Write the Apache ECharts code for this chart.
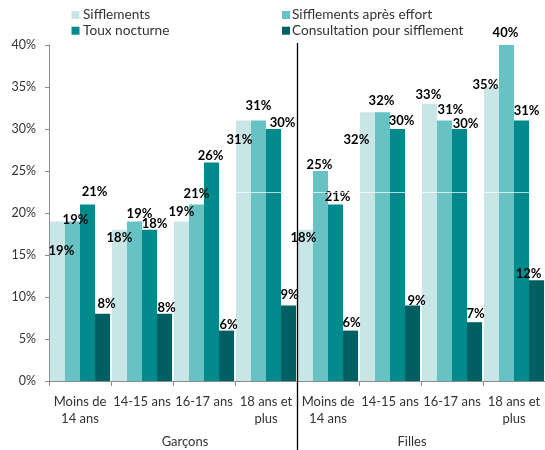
<!DOCTYPE html>
<html>
<head>
<meta charset="utf-8">
<script src="https://cdn.jsdelivr.net/npm/echarts@6/dist/echarts.min.js"></script>
<style>
  html, body { margin: 0; padding: 0; background: #ffffff; }
  #chart { width: 545px; height: 450px; }
</style>
</head>
<body>
<div id="chart"></div>
<script>
// Age bands, repeated for boys then girls
const categories = [
  'Moins de\n14 ans', '14-15 ans', '16-17 ans', '18 ans et\nplus',
  'Moins de\n14 ans', '14-15 ans', '16-17 ans', '18 ans et\nplus'
];
const groupNames = ['Garçons', 'Filles'];
const seriesNames = ['Sifflements', 'Sifflements après effort', 'Toux nocturne', 'Consultation pour sifflement'];

// Percentages per age band (boys x4, girls x4)
const sifflements = [19, 18, 19, 31, 18, 32, 33, 35];
const sifflementsEffort = [19, 19, 21, 31, 25, 32, 31, 40];
const touxNocturne = [21, 18, 26, 30, 21, 30, 30, 31];
const consultation = [8, 8, 6, 9, 6, 9, 7, 12];

const yTickValues = [0, 5, 10, 15, 20, 25, 30, 35, 40];

// Layout: hand-placed nudges for the value labels ([dx, dy] from the default top position)
const labelNudges = [
  [[4, 41], [0, 20], [0, 2], [-4, 31], [-2, 20], [-11, 39], [-1, 3], [-6, 9]],
  [[3, 10], [5, 4], [0, 1], [0, -3], [-1, 5], [-1, 0], [6, 1], [-1, -1]],
  [[7, -1], [5, 6], [-1, 5], [9, 5], [2, 4], [4, 3], [6, 6], [5, 2]],
  [[4, 2], [2, 6], [2, 6], [1, 1], [1, 4], [4, 7], [1, 3], [-8, 5]]
];
const colors = ['#c9e6e6', '#67c2c3', '#008a8c', '#005f62'];
const FONT = 'Lato';

const values = [sifflements, sifflementsEffort, touxNocturne, consultation];

const chart = echarts.init(document.getElementById('chart'), null, { renderer: 'canvas' });

const series = values.map((arr, si) => ({
  name: seriesNames[si],
  type: 'bar',
  barGap: '0%',
  barCategoryGap: '3%',
  itemStyle: { color: colors[si] },
  label: {
    show: true,
    position: 'top',
    distance: 5,
    formatter: '{c}%',
    fontFamily: FONT,
    fontWeight: 'bold',
    fontSize: 13,
    color: '#000000'
  },
  data: arr.map((v, i) => ({ value: v, label: { offset: labelNudges[si][i] } }))
}));

const legendText = { fontFamily: FONT, fontSize: 13.7, lineHeight: 14, color: '#333333' };

const option = {
  animation: false,
  textStyle: { fontFamily: FONT },
  grid: { left: 49, right: -8, top: 45, bottom: 69, containLabel: false },
  legend: [
    {
      data: [seriesNames[0], seriesNames[2]],
      orient: 'vertical',
      left: 71.5, top: 8, padding: 0,
      itemWidth: 8, itemHeight: 8, itemGap: 1.7,
      icon: 'rect',
      textStyle: Object.assign({ padding: [0, 0, 0, -1.5] }, legendText)
    },
    {
      data: [seriesNames[1], seriesNames[3]],
      orient: 'vertical',
      left: 282, top: 8, padding: 0,
      itemWidth: 8, itemHeight: 8, itemGap: 1.7,
      icon: 'rect',
      textStyle: Object.assign({ padding: [0, 0, 0, -3] }, legendText)
    }
  ],
  xAxis: {
    type: 'category',
    data: categories,
    axisLine: { lineStyle: { color: '#8c8c8c', width: 1 } },
    axisTick: { show: true, length: 5, lineStyle: { color: '#8c8c8c' } },
    axisLabel: {
      interval: 0,
      margin: 12,
      fontFamily: FONT,
      fontSize: 13,
      lineHeight: 17,
      color: '#333333'
    }
  },
  yAxis: {
    type: 'value',
    min: yTickValues[0],
    max: yTickValues[yTickValues.length - 1],
    interval: 5,
    axisLine: { show: true, lineStyle: { color: '#8c8c8c', width: 1 } },
    axisTick: { show: true, length: 4, lineStyle: { color: '#8c8c8c' } },
    splitLine: { show: false },
    axisLabel: {
      formatter: '{value}%',
      margin: 13,
      fontFamily: FONT,
      fontSize: 12.5,
      color: '#333333'
    }
  },
  series: series
};

chart.setOption(option);

// Group divider, group titles and the faint white rule across the bars
const xA = chart.convertToPixel({ xAxisIndex: 0 }, 3);
const xB = chart.convertToPixel({ xAxisIndex: 0 }, 4);
const dividerX = Math.round((xA + xB) / 2) + 0.5;
const ruleY = Math.round(chart.convertToPixel({ yAxisIndex: 0 }, 22.5)) + 0.5;

chart.setOption({
  graphic: [
    {
      type: 'line',
      shape: { x1: dividerX, y1: 43, x2: dividerX, y2: 450 },
      style: { stroke: '#000000', lineWidth: 1.3 },
      z: 10
    },
    {
      type: 'line',
      shape: { x1: 221, y1: ruleY, x2: 545, y2: ruleY },
      style: { stroke: 'rgba(255,255,255,0.7)', lineWidth: 1 },
      z: 5
    },
    {
      type: 'text',
      x: 185, y: 442,
      style: { text: groupNames[0], fontFamily: FONT, fontSize: 13, fill: '#333333', align: 'center', verticalAlign: 'middle' }
    },
    {
      type: 'text',
      x: 412, y: 442,
      style: { text: groupNames[1], fontFamily: FONT, fontSize: 13, fill: '#333333', align: 'center', verticalAlign: 'middle' }
    }
  ]
});
</script>
</body>
</html>
